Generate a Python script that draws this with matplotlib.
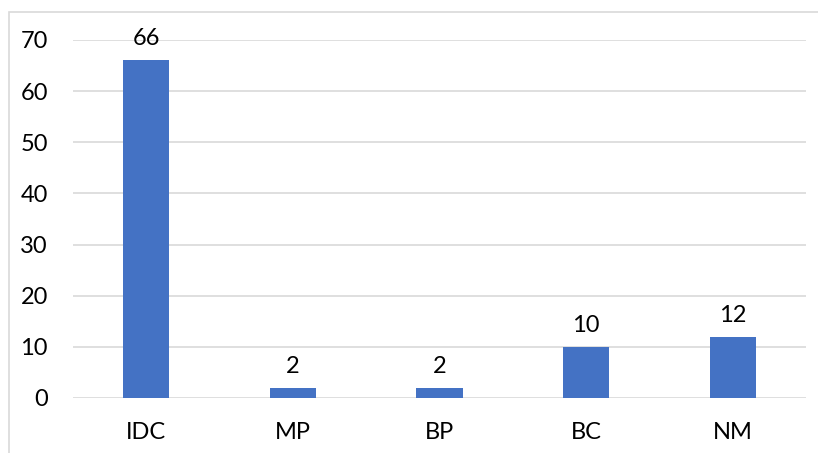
import matplotlib
matplotlib.use('Agg')
import matplotlib.pyplot as plt
import matplotlib.patches as patches

categories = ['IDC', 'MP', 'BP', 'BC', 'NM']
counts = [66, 2, 2, 10, 12]
y_ticks = [0, 10, 20, 30, 40, 50, 60, 70]

bar_color = '#4472C4'
grid_color = '#D9D9D9'

plt.rcParams['font.family'] = ['Lato', 'DejaVu Sans']

fig = plt.figure(figsize=(8.18, 4.53), dpi=100)

# light frame around the chart area
fig.patches.append(patches.Rectangle((9 / 818, -0.1), 1.2, 1 - 12 / 453 + 0.1,
                                     transform=fig.transFigure, fill=False,
                                     edgecolor=grid_color, linewidth=1.2))

ax = fig.add_axes([73 / 818, 1 - 398 / 453, (806 - 73) / 818, (398 - 40) / 453])
x = range(len(categories))
bars = ax.bar(x, counts, width=0.315, color=bar_color, zorder=3)

for rect, val in zip(bars, counts):
    ax.annotate(str(val), (rect.get_x() + rect.get_width() / 2, rect.get_height()),
                xytext=(0, 8), textcoords='offset points',
                ha='center', va='bottom', fontsize=17, color='#000000')

ax.set_xlim(-0.5, len(categories) - 0.5)
ax.set_ylim(0, 70)
ax.set_yticks(y_ticks)
ax.set_xticks(list(x))
ax.set_xticklabels(categories)
ax.tick_params(axis='both', length=0, labelsize=17, colors='#000000')
ax.tick_params(axis='y', pad=18)
ax.tick_params(axis='x', pad=17)
ax.grid(axis='y', color=grid_color, linewidth=1.2, zorder=0)
for s in ax.spines.values():
    s.set_visible(False)

fig.savefig('out.png', dpi=100)
